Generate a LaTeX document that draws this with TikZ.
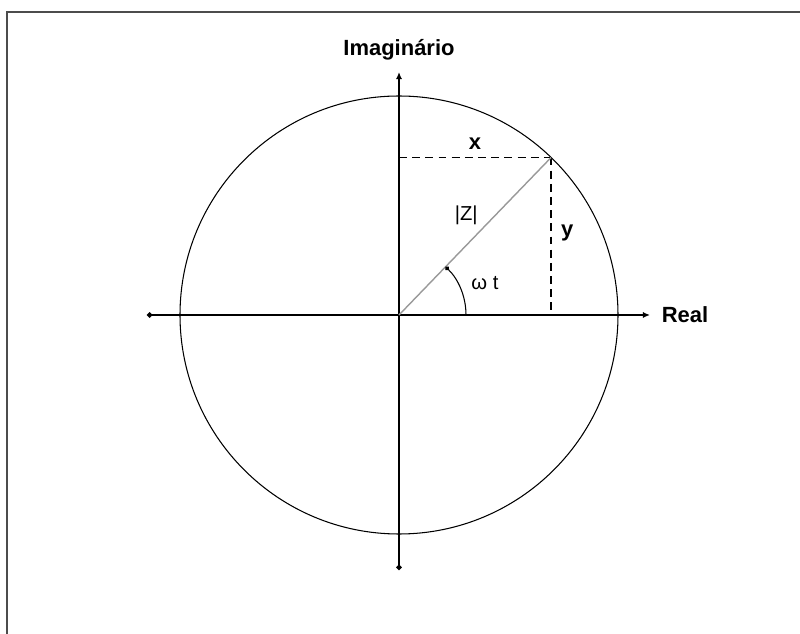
\documentclass[tikz,border=0pt]{standalone}
\usepackage{fontspec}
\setmainfont{Liberation Sans}
\usetikzlibrary{arrows.meta}

\begin{document}
\begin{tikzpicture}[
		lbl/.style={font=\fontsize{12.5}{14}\selectfont\bfseries},
		small/.style={font=\fontsize{11.5}{13}\selectfont,text=black},
		axis/.style={line width=0.8pt,{Circle[length=3pt]}-{Latex[length=4pt,width=3.5pt]}},
		proj/.style={line width=0.8pt,dash pattern=on 4.5pt off 3pt}
	]
	\useasboundingbox (-7.98,-6.38) rectangle (8.02,6.3);
	% frame: only the top and left edges show
	\draw[line width=1.3pt,black!70] (-7.84,-6.38) -- (-7.84,6.06) -- (8.02,6.06);
	% points
	\coordinate (O) at (0,0);
	\coordinate (P) at (46:4.38);
	\coordinate (Px) at (O |- P);
	\coordinate (Py) at (P |- O);
	\coordinate (west) at (-5.04,0);
	\coordinate (east) at (5.02,0);
	\coordinate (south) at (0,-5.1);
	\coordinate (north) at (0,4.86);
	% circle
	\draw[line width=0.6pt] (O) circle (4.38);
	% axes
	\draw[axis] (west) -- (east) node[lbl,right=3pt] (re) {Real};
	\draw[axis] (south) -- (north) node[lbl,above=3pt] (im) {Imaginário};
	% projections
	\draw[proj] (Px) -- (P) node[lbl,midway,above=1pt] (xl) {x};
	\draw[proj] (P) -- (Py) node[lbl,midway,right=2pt,yshift=2pt] (yl) {y};
	% radius
	\draw[gray!80,line width=0.8pt] (O) -- (P) node[small,pos=0.63,anchor=east,xshift=-6pt] (zl) {|Z|};
	% angle
	\coordinate (A) at (0:1.34);
	\draw[line width=0.6pt,-{Circle[length=2.5pt]}] (A) arc[start angle=0,end angle=46,radius=1.34];
	\node[small] (wt) at (1.72,0.64) {ω t};
\end{tikzpicture}
\end{document}
